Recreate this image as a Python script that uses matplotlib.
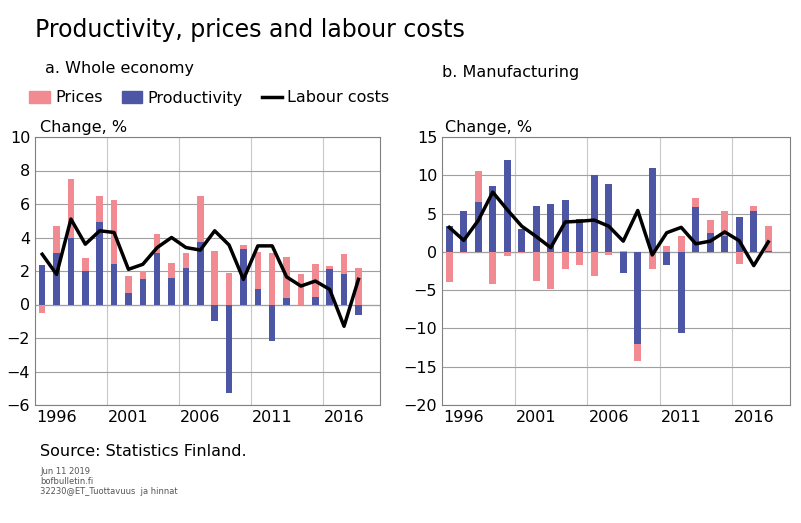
import numpy as np
import matplotlib.pyplot as plt

years = np.arange(1995, 2018)

# a. Whole economy
prod_a = [2.35, 3.1, 4.0, 2.0, 4.95, 2.4, 0.7, 1.5, 3.05, 1.6, 2.2, 3.75, -1.0, -5.3,
          3.3, 0.95, -2.15, 0.4, 0.0, 0.42, 2.1, 1.8, -0.6]
price_a = [-0.5, 1.6, 3.5, 0.75, 1.55, 3.85, 1.0, 0.5, 1.15, 0.9, 0.9, 2.7, 3.2, 1.9,
           0.25, 2.2, 3.1, 2.45, 1.8, 1.98, 0.2, 1.2, 2.2]
labour_a = [3.0, 1.8, 5.1, 3.6, 4.4, 4.3, 2.1, 2.4, 3.4, 4.0, 3.4, 3.25, 4.4, 3.55,
            1.5, 3.5, 3.5, 1.65, 1.1, 1.4, 0.9, -1.3, 1.5]

# b. Manufacturing
prod_b = [3.35, 5.4, 6.5, 8.6, 12.0, 3.05, 6.0, 6.25, 6.8, 4.3, 10.1, 8.8, -2.8, -12.0,
          10.9, -1.75, -10.55, 5.9, 2.45, 2.1, 4.6, 5.3, 0.15]
price_b = [-3.9, -0.2, 4.1, -4.2, -0.5, -0.1, -3.8, -4.8, -2.2, -1.75, -3.2, -0.4, 0.1, -2.3,
           -2.2, 0.8, 2.05, 1.15, 1.75, 3.2, -1.65, 0.65, 3.2]
labour_b = [3.2, 1.5, 4.1, 7.8, 5.5, 3.35, 2.0, 0.55, 3.9, 4.0, 4.15, 3.35, 1.4, 5.4,
            -0.4, 2.5, 3.2, 1.05, 1.4, 2.6, 1.45, -1.8, 1.3]

BLUE = '#4d55a5'
PINK = '#f28b91'


def panel(ax, prod, price, labour, ylim, step):
    prod = np.array(prod)
    price = np.array(price)
    # stack prices on productivity when same sign, otherwise from zero
    same = np.sign(prod) == np.sign(price)
    bottom = np.where(same, prod, 0.0)
    ax.bar(years, prod, width=0.45, color=BLUE, zorder=2)
    ax.bar(years, price, bottom=bottom, width=0.45, color=PINK, zorder=2)
    ax.plot(years, labour, color='black', lw=2.5, zorder=3)
    ax.set_xlim(1994.5, 2018.5)
    ax.set_ylim(*ylim)
    ax.set_yticks(np.arange(ylim[0], ylim[1] + step / 2, step))
    ax.set_xticks([1996, 2001, 2006, 2011, 2016])
    ax.set_xticks([1999.5, 2004.5, 2009.5, 2014.5], minor=True)
    ax.tick_params(which='both', length=0, labelsize=11.5)
    ax.grid(True, axis='y', color='#a0a0a0', lw=0.8)
    ax.grid(True, axis='x', which='minor', color='#c8c8c8', lw=0.8)
    ax.axhline(0, color='#c8c8c8', lw=1.0, zorder=1)
    for s in ax.spines.values():
        s.set_color('#808080')


fig = plt.figure(figsize=(8.01, 5.23), dpi=100)
W, H = 801, 523
ax1 = fig.add_axes([35 / W, 1 - 405 / H, 345 / W, 268 / H])
ax2 = fig.add_axes([442 / W, 1 - 405 / H, 348 / W, 268 / H])
panel(ax1, prod_a, price_a, labour_a, (-6, 10), 2)
panel(ax2, prod_b, price_b, labour_b, (-20, 15), 5)

fig.text(35 / W, 1 - 30 / H, 'Productivity, prices and labour costs', fontsize=17, va='center')
fig.text(45 / W, 1 - 68 / H, 'a. Whole economy', fontsize=11.5, va='center')
fig.text(442 / W, 1 - 72 / H, 'b. Manufacturing', fontsize=11.5, va='center')
fig.text(40 / W, 1 - 127 / H, 'Change, %', fontsize=11.5, va='center')
fig.text(445 / W, 1 - 127 / H, 'Change, %', fontsize=11.5, va='center')

# legend
h1 = plt.Rectangle((0, 0), 1, 1, color=PINK)
h2 = plt.Rectangle((0, 0), 1, 1, color=BLUE)
h3 = plt.Line2D([], [], color='black', lw=2.5)
fig.legend([h1, h2, h3], ['Prices', 'Productivity', 'Labour costs'], loc='center left',
           bbox_to_anchor=(15 / W, 1 - 98 / H), ncol=3, frameon=False, fontsize=11.5,
           handlelength=1.3, handletextpad=0.3, columnspacing=1.2)

fig.text(40 / W, 1 - 452 / H, 'Source: Statistics Finland.', fontsize=11.5, va='center')
fig.text(40 / W, 1 - 471 / H, 'Jun 11 2019', fontsize=6, color='#555555', va='center')
fig.text(40 / W, 1 - 481 / H, 'bofbulletin.fi', fontsize=6, color='#555555', va='center')
fig.text(40 / W, 1 - 491 / H, '32230@ET_Tuottavuus  ja hinnat', fontsize=6, color='#555555', va='center')

fig.savefig('out.png', dpi=100)
